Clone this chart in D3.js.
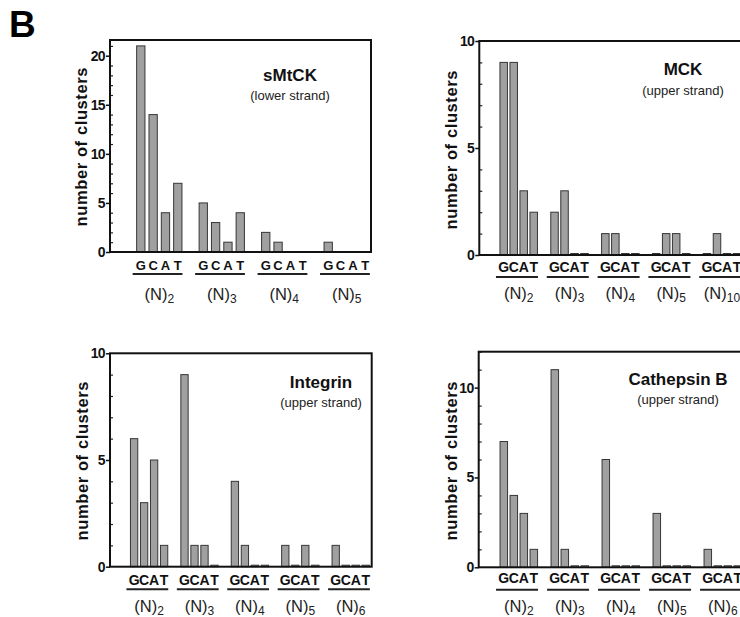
<!DOCTYPE html>
<html>
<head>
<meta charset="utf-8">
<style>
  body { margin: 0; background: #fff; }
  svg { display: block; font-family: "Liberation Sans", Arial, sans-serif; }
</style>
</head>
<body>
<svg id="chart" width="740" height="617"></svg>
<script src="https://d3js.org/d3.v7.min.js"></script>
<script>
// bases shown under every group
var letters = ["G", "C", "A", "T"];

// sMtCK (lower strand)
var smtckGroups = ["2", "3", "4", "5"];
var smtckValues = [[21, 14, 4, 7], [5, 3, 1, 4], [2, 1, 0, 0], [1, 0, 0, 0]];

// MCK (upper strand)
var mckGroups = ["2", "3", "4", "5", "10"];
var mckValues = [[9, 9, 3, 2], [2, 3, 0, 0], [1, 1, 0, 0], [0, 1, 1, 0], [0, 1, 0, 0]];

// Integrin (upper strand)
var integrinGroups = ["2", "3", "4", "5", "6"];
var integrinValues = [[6, 3, 5, 1], [9, 1, 1, 0], [4, 1, 0, 0], [1, 0, 1, 0], [1, 0, 0, 0]];

// Cathepsin B (upper strand)
var cathGroups = ["2", "3", "4", "5", "6"];
var cathValues = [[7, 4, 3, 1], [11, 1, 0, 0], [6, 0, 0, 0], [3, 0, 0, 0], [1, 0, 0, 0]];

var yTicksSmtck = [0, 5, 10, 15, 20];
var yTicksTen = [0, 5, 10];

var svg = d3.select("#chart");

svg.append("text")
    .attr("x", 9).attr("y", 37)
    .attr("font-size", 37).attr("font-weight", "bold")
    .text("B");

var panels = [
    { title: "sMtCK", sub: "(lower strand)", groups: smtckGroups, values: smtckValues,
      yMax: 21.6, ticks: yTicksSmtck, left: 110, right: 371, top: 40, zero: 252,
      c0: 159.3, c1: 346.7, half: 18.5, bw: 8.3, letterSize: 13, zeroMarks: false,
      titleX: 290, titleY: 81, subY: 100, labelX: 87, labelY: 147,
      gcatDy: 18, ulDy: 22, nDy: 48 },
    { title: "MCK", sub: "(upper strand)", groups: mckGroups, values: mckValues,
      yMax: 10, ticks: yTicksTen, left: 479.3, right: 742, top: 41, zero: 255,
      c0: 518.7, c1: 722, half: 15, bw: 7.5, letterSize: 14, zeroMarks: true,
      titleX: 683, titleY: 75, subY: 95, labelX: 457, labelY: 150,
      gcatDy: 17, ulDy: 22, nDy: 44 },
    { title: "Integrin", sub: "(upper strand)", groups: integrinGroups, values: integrinValues,
      yMax: 10, ticks: yTicksTen, left: 110, right: 371.7, top: 353.3, zero: 566.7,
      c0: 149.1, c1: 350.7, half: 15, bw: 7.3, letterSize: 14, zeroMarks: true,
      titleX: 321, titleY: 388, subY: 407, labelX: 88, labelY: 461,
      gcatDy: 18, ulDy: 22.5, nDy: 45 },
    { title: "Cathepsin B", sub: "(upper strand)", groups: cathGroups, values: cathValues,
      yMax: 12, ticks: yTicksTen, left: 478.7, right: 742, top: 351.7, zero: 567.3,
      c0: 518.8, c1: 722.8, half: 15, bw: 7.5, letterSize: 14, zeroMarks: true,
      titleX: 678, titleY: 385, subY: 404, labelX: 457, labelY: 461,
      gcatDy: 16, ulDy: 22.5, nDy: 45 }
];

panels.forEach(drawPanel);

function drawPanel(p) {
    var g = svg.append("g");
    var y = d3.scaleLinear().domain([0, p.yMax]).range([p.zero, p.top]);
    var xg = d3.scalePoint().domain(p.groups).range([p.c0, p.c1]);
    var xl = d3.scalePoint().domain(letters).range([-p.half, p.half]);
    var minH = p.zeroMarks ? 1.5 : 0;

    // minor ticks, one per unit, pointing inwards
    var minor = d3.range(0, Math.floor(p.yMax) + 1).filter(function(v) { return p.ticks.indexOf(v) < 0; });
    g.append("g")
        .attr("transform", "translate(" + p.left + ",0)")
        .call(d3.axisLeft(y).tickValues(minor).tickSize(-3).tickFormat(""))
        .call(function(a) { a.select(".domain").remove(); a.selectAll("line").attr("stroke", "#222").attr("stroke-width", 1.2); });

    g.append("g")
        .attr("transform", "translate(" + p.left + ",0)")
        .call(d3.axisLeft(y).tickValues(p.ticks).tickSize(4).tickPadding(1).tickFormat(d3.format("d")))
        .call(function(a) {
            a.select(".domain").remove();
            a.selectAll("line").attr("stroke", "#111").attr("stroke-width", 1.5);
            a.selectAll("text").attr("font-size", 14).attr("font-weight", "bold")
                .attr("font-family", "'Liberation Sans', Arial, sans-serif").attr("fill", "#111")
                .attr("letter-spacing", -0.6);
        });

    // bars
    p.groups.forEach(function(grp, i) {
        g.selectAll(null)
            .data(letters.map(function(l, j) { return { l: l, v: p.values[i][j] }; }))
            .enter().append("rect")
            .attr("x", function(d) { return xg(grp) + xl(d.l) - p.bw / 2; })
            .attr("y", function(d) { return Math.min(y(d.v), p.zero - minH); })
            .attr("width", p.bw)
            .attr("height", function(d) { return Math.max(p.zero - y(d.v), minH); })
            .attr("fill", "#a0a0a0")
            .attr("stroke", "#363636")
            .attr("stroke-width", 1);

        g.selectAll(null)
            .data(letters)
            .enter().append("text")
            .attr("x", function(l) { return xg(grp) + xl(l); })
            .attr("y", p.zero + p.gcatDy)
            .attr("text-anchor", "middle")
            .attr("font-size", p.letterSize).attr("font-weight", "bold").attr("fill", "#111")
            .text(function(l) { return l; });

        g.append("line")
            .attr("x1", xg(grp) - p.half - p.bw / 2 - 4)
            .attr("x2", xg(grp) + p.half + p.bw / 2 + 0.5)
            .attr("y1", p.zero + p.ulDy).attr("y2", p.zero + p.ulDy)
            .attr("stroke", "#222").attr("stroke-width", 2);

        var n = g.append("text")
            .attr("x", xg(grp))
            .attr("y", p.zero + p.nDy)
            .attr("text-anchor", "middle")
            .attr("font-size", 16.5).attr("fill", "#222");
        n.append("tspan").text("(N)");
        n.append("tspan").attr("dy", 3).attr("font-size", 12).text(grp);
    });

    // frame
    g.append("rect")
        .attr("x", p.left).attr("y", p.top)
        .attr("width", p.right - p.left).attr("height", p.zero - p.top)
        .attr("fill", "none").attr("stroke", "#111").attr("stroke-width", 2);

    g.append("text")
        .attr("x", p.titleX).attr("y", p.titleY)
        .attr("text-anchor", "middle")
        .attr("font-size", 17).attr("font-weight", "bold").attr("fill", "#111")
        .text(p.title);
    g.append("text")
        .attr("x", p.titleX).attr("y", p.subY)
        .attr("text-anchor", "middle")
        .attr("font-size", 13).attr("fill", "#222")
        .text(p.sub);

    g.append("text")
        .attr("transform", "translate(" + p.labelX + "," + p.labelY + ") rotate(-90)")
        .attr("text-anchor", "middle")
        .attr("font-size", 16.5).attr("font-weight", "bold").attr("fill", "#111")
        .attr("textLength", 159).attr("lengthAdjust", "spacing")
        .text("number of clusters");
}
</script>
</body>
</html>
